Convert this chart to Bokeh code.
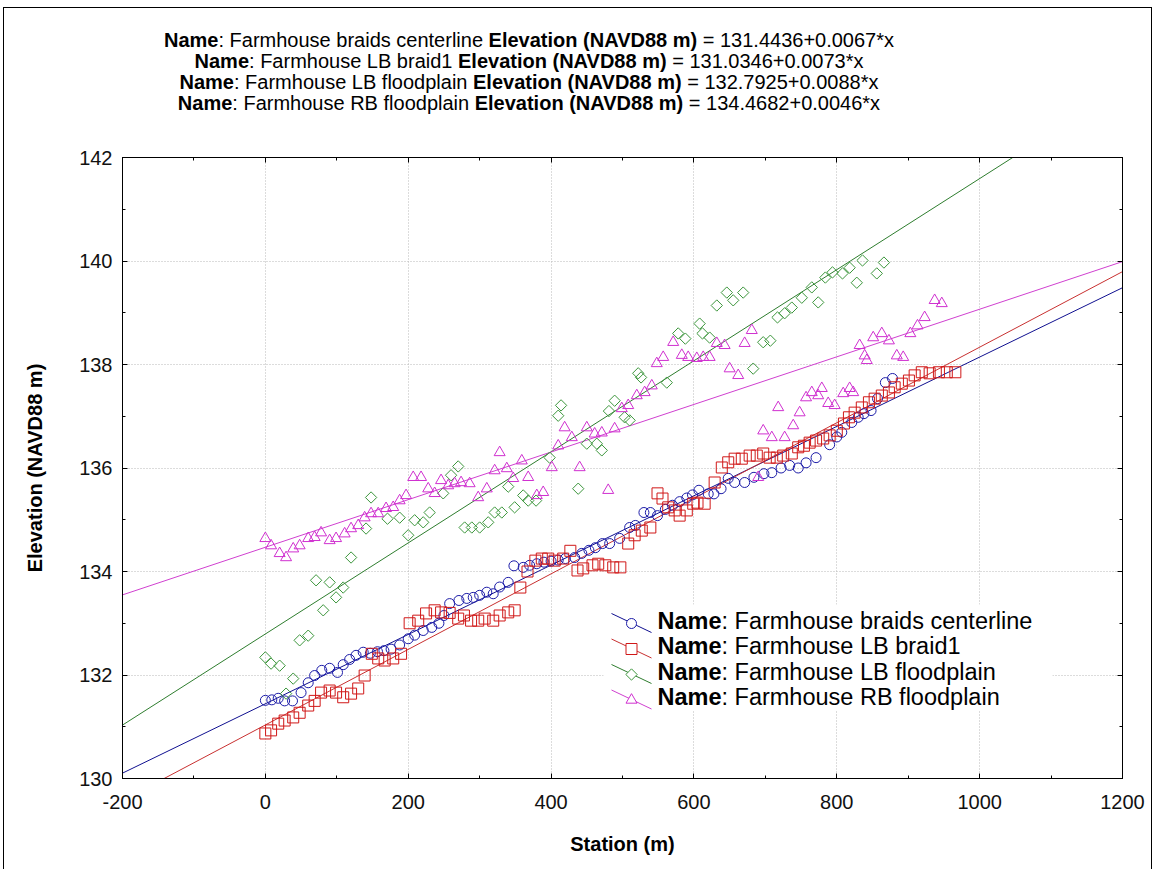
import numpy as np
from bokeh.plotting import figure
from bokeh.models import Range1d, SingleIntervalTicker, LinearAxis, Label, Div
from bokeh.layouts import column
from bokeh.embed import file_html
from bokeh.resources import INLINE

# ---------------------------------------------------------------- data
series_names = [
    "Farmhouse braids centerline",
    "Farmhouse LB braid1",
    "Farmhouse LB floodplain",
    "Farmhouse RB floodplain",
]
fit_intercept = [131.4436, 131.0346, 132.7925, 134.4682]
fit_slope = [0.0067, 0.0073, 0.0088, 0.0046]

x_ticks = [-200, 0, 200, 400, 600, 800, 1000, 1200]
y_ticks = [130, 132, 134, 136, 138, 140, 142]

centerline_station = [0, 9, 18, 27, 38, 50, 60, 69, 79, 90, 101, 109, 118, 127, 137, 147, 157, 166, 176, 188,
                      200, 209, 221, 233, 243, 250, 258, 271, 282, 291, 300, 310, 319, 328, 340, 348, 361, 370,
                      380, 390, 400, 410, 420, 433, 443, 453, 462, 472, 482, 496, 510, 518, 530, 539, 549, 560,
                      570, 580, 590, 598, 607, 620, 628, 638, 648, 657, 671, 684, 698, 709, 722, 734, 746, 757,
                      771, 790, 800, 807, 821, 830, 838, 848, 857, 868, 878]
centerline_elev = [131.51, 131.52, 131.55, 131.50, 131.50, 131.66, 131.85, 131.99, 132.09, 132.13, 132.05, 132.20,
                   132.30, 132.38, 132.44, 132.42, 132.45, 132.47, 132.50, 132.58, 132.70, 132.77, 132.86, 132.92,
                   133.00, 133.15, 133.38, 133.44, 133.48, 133.50, 133.54, 133.60, 133.57, 133.70, 133.79, 134.11,
                   134.08, 134.12, 134.15, 134.18, 134.20, 134.22, 134.25, 134.27, 134.35, 134.41, 134.46, 134.54,
                   134.54, 134.64, 134.85, 134.89, 135.14, 135.14, 135.08, 135.20, 135.28, 135.35, 135.42, 135.48,
                   135.57, 135.50, 135.50, 135.60, 135.80, 135.72, 135.72, 135.82, 135.89, 135.91, 136.00, 136.05,
                   136.00, 136.10, 136.20, 136.45, 136.60, 136.69, 136.88, 136.98, 137.05, 137.11, 137.34, 137.65,
                   137.73]

braid1_station = [0, 8, 18, 27, 39, 48, 60, 69, 78, 90, 99, 109, 120, 130, 139, 149, 158, 167, 179, 190, 202, 214,
                  225, 237, 246, 258, 270, 278, 288, 298, 307, 319, 328, 340, 349, 357, 367, 378, 387, 396, 405,
                  417, 427, 437, 445, 458, 466, 476, 487, 497, 508, 517, 527, 539, 549, 556, 564, 573, 580, 590,
                  599, 605, 615, 629, 639, 648, 657, 667, 678, 688, 697, 706, 716, 725, 737, 746, 754, 762, 771,
                  781, 790, 800, 810, 817, 825, 835, 845, 853, 863, 873, 881, 891, 901, 909, 919, 930, 943, 954,
                  966]
braid1_elev = [130.87, 130.93, 131.06, 131.12, 131.18, 131.27, 131.41, 131.50, 131.66, 131.70, 131.66, 131.57,
               131.64, 131.74, 131.99, 132.41, 132.32, 132.28, 132.32, 132.41, 133.00, 133.05, 133.19, 133.25,
               133.21, 133.20, 133.09, 133.15, 133.05, 133.05, 133.09, 133.05, 133.15, 133.21, 133.25, 133.69,
               134.00, 134.21, 134.25, 134.25, 134.21, 134.25, 134.40, 134.02, 134.06, 134.12, 134.15, 134.12,
               134.08, 134.08, 134.54, 134.70, 134.79, 134.85, 135.51, 135.41, 135.24, 135.18, 135.08, 135.18,
               135.31, 135.33, 135.31, 135.72, 136.01, 136.11, 136.18, 136.18, 136.24, 136.24, 136.28, 136.20,
               136.20, 136.24, 136.28, 136.40, 136.43, 136.49, 136.53, 136.57, 136.63, 136.72, 136.86, 136.98,
               137.07, 137.17, 137.27, 137.34, 137.40, 137.46, 137.56, 137.63, 137.69, 137.79, 137.85, 137.83,
               137.85, 137.85, 137.85]

lb_flood_station = [0, 8, 20, 29, 39, 48, 60, 71, 81, 90, 99, 109, 120, 141, 148, 171, 188, 200, 209, 221, 230,
                    249, 260, 270, 279, 289, 300, 312, 321, 331, 340, 349, 361, 368, 379, 398, 410, 414, 438, 450,
                    464, 471, 481, 489, 503, 510, 522, 526, 562, 578, 588, 608, 612, 622, 632, 646, 655, 669, 683,
                    697, 707, 717, 727, 737, 751, 765, 774, 784, 794, 808, 818, 828, 836, 856, 866]
lb_flood_elev = [132.34, 132.22, 132.18, 131.64, 131.93, 132.67, 132.76, 133.83, 133.25, 133.79, 133.50, 133.69,
                 134.27, 134.83, 135.43, 135.02, 135.04, 134.70, 134.99, 134.95, 135.14, 135.51, 135.86, 136.03,
                 134.85, 134.85, 134.85, 134.95, 135.14, 135.14, 135.64, 135.24, 135.47, 135.37, 135.37, 136.20,
                 137.01, 137.21, 135.60, 136.47, 136.47, 136.34, 137.10, 137.30, 136.98, 136.92, 137.83, 137.75,
                 137.65, 138.60, 138.50, 138.79, 138.60, 138.52, 139.14, 139.39, 139.24, 139.39, 137.92, 138.43,
                 138.46, 138.91, 138.99, 139.10, 139.29, 139.49, 139.20, 139.68, 139.78, 139.76, 139.87, 139.58,
                 140.01, 139.76, 139.97]

rb_flood_station = [0, 8, 20, 29, 39, 48, 60, 69, 78, 90, 99, 111, 120, 130, 139, 148, 158, 169, 179, 188, 197,
                    207, 218, 228, 237, 246, 256, 265, 274, 286, 298, 310, 321, 328, 338, 347, 359, 368, 380, 389,
                    401, 410, 419, 429, 440, 450, 461, 471, 480, 489, 499, 508, 520, 531, 541, 548, 557, 571, 583,
                    592, 604, 613, 622, 632, 643, 650, 662, 671, 681, 690, 697, 709, 718, 727, 739, 748, 757, 765,
                    774, 779, 788, 797, 809, 818, 823, 832, 839, 842, 851, 863, 873, 884, 893, 903, 913, 923, 937,
                    947]
rb_flood_elev = [134.64, 134.50, 134.35, 134.27, 134.44, 134.50, 134.64, 134.66, 134.75, 134.60, 134.64, 134.73,
                 134.83, 134.89, 135.04, 135.12, 135.12, 135.22, 135.24, 135.37, 135.47, 135.82, 135.82, 135.60,
                 135.51, 135.76, 135.66, 135.70, 135.72, 135.70, 135.43, 135.60, 135.95, 136.30, 135.99, 135.80,
                 136.14, 135.82, 135.47, 135.53, 136.01, 136.43, 136.78, 136.59, 136.01, 136.78, 136.66, 136.68,
                 135.57, 136.76, 137.15, 137.21, 137.40, 137.46, 137.59, 138.02, 138.14, 138.43, 138.18, 138.14,
                 138.12, 138.14, 138.14, 138.41, 138.37, 137.92, 137.79, 138.41, 138.66, 135.82, 136.72, 136.59,
                 137.17, 136.59, 136.82, 137.07, 137.36, 137.46, 137.40, 137.54, 137.25, 137.21, 137.44, 137.54,
                 137.46, 138.37, 138.17, 138.08, 138.52, 138.60, 138.46, 138.17, 138.14, 138.60, 138.75, 138.91,
                 139.24, 139.18]

stations = [centerline_station, braid1_station, lb_flood_station, rb_flood_station]
elevations = [centerline_elev, braid1_elev, lb_flood_elev, rb_flood_elev]

# ---------------------------------------------------------------- page geometry
FONT = "Liberation Sans"
PAGE_W, PAGE_H = 1156, 869
EDGE_L, EDGE_T = 3, 7              # outer frame of the whole graph window
INNER_W = 1147                      # width inside the outer frame
HEAD_H = 110                        # height of the equation header
FRAME_L, FRAME_R, FRAME_T, FRAME_B = 122, 1122, 157, 778   # page pixels of the plot box

ox, oy = EDGE_L + 1, EDGE_T + 1     # page offset of the content area
PLOT_H = PAGE_H - oy - HEAD_H

marker_kind = ["circle", "square", "square", "triangle"]
marker_size = [10, 11, 8, 11]
marker_angle = [0.0, 0.0, np.pi / 4, 0.0]
marker_color = ["#1c1ca8", "#d01818", "#3c963c", "#d030d0"]
line_color = ["#101090", "#c83030", "#2e7d2e", "#d040d0"]

# Arial / Liberation Sans bold advance widths (1/1000 em) for the legend's mixed-weight text
BOLD_W = {"N": 722, "a": 556, "m": 889, "e": 556}


def bold_width(s, size):
    return sum(BOLD_W[c] for c in s) * size / 1000.0


x_lo, x_hi = x_ticks[0], x_ticks[-1]
y_lo, y_hi = y_ticks[0], y_ticks[-1]


def sx(px):
    return x_lo + (px - FRAME_L) * (x_hi - x_lo) / (FRAME_R - FRAME_L)


def sy(py):
    return y_hi - (py - FRAME_T) * (y_hi - y_lo) / (FRAME_B - FRAME_T)


# ---------------------------------------------------------------- equation header
title_center = 529 - ox
title_rows = [40, 61, 82, 103]
rows_html = []
for i in range(4):
    rows_html.append(
        '<div style="height:21px;line-height:21px;white-space:nowrap;">'
        '<b>Name</b>: %s <b>Elevation (NAVD88 m)</b> = %.4f+%.4f*x</div>'
        % (series_names[i], fit_intercept[i], fit_slope[i])
    )
header = Div(
    text='<div style="width:%dpx;text-align:center;padding-top:%dpx;font-family:\'%s\';'
         'font-size:20px;color:#000000;">%s</div>'
         % (2 * title_center, title_rows[0] - oy - 10, FONT, "".join(rows_html)),
    width=INNER_W, height=HEAD_H, margin=0,
)

# ---------------------------------------------------------------- plot
p = figure(width=INNER_W, height=PLOT_H, x_range=Range1d(x_lo, x_hi), y_range=Range1d(y_lo, y_hi),
           output_backend="svg", toolbar_location=None,
           min_border_left=FRAME_L - ox, min_border_right=INNER_W - (FRAME_R - ox),
           min_border_top=FRAME_T - oy - HEAD_H, min_border_bottom=PLOT_H - (FRAME_B - oy - HEAD_H),
           background_fill_color="white", border_fill_color="white",
           outline_line_color="black", outline_line_width=1, margin=0)

xt = SingleIntervalTicker(interval=200, num_minor_ticks=2)
yt = SingleIntervalTicker(interval=2, num_minor_ticks=2)
p.xaxis.ticker = xt
p.yaxis.ticker = yt
p.xgrid.ticker = xt
p.ygrid.ticker = yt
p.grid.grid_line_color = "#b8b8b8"
p.grid.grid_line_dash = "1 2"
p.grid.grid_line_width = 1

for ax in (p.xaxis[0], p.yaxis[0]):
    ax.major_tick_in = 5
    ax.major_tick_out = 0
    ax.minor_tick_in = 3
    ax.minor_tick_out = 0
    ax.axis_line_color = "black"
    ax.major_tick_line_color = "black"
    ax.minor_tick_line_color = "black"
    ax.major_label_text_font = FONT
    ax.major_label_text_font_size = "20px"
    ax.major_label_text_color = "#111111"
    ax.axis_label_text_font = FONT
    ax.axis_label_text_font_size = "20px"
    ax.axis_label_text_font_style = "bold"
    ax.axis_label_text_color = "black"

p.xaxis[0].major_label_overrides = {t: str(t) for t in x_ticks}
p.xaxis[0].axis_label = "Station (m)"
p.xaxis[0].major_label_standoff = 16
p.xaxis[0].axis_label_standoff = 21
p.yaxis[0].axis_label = "Elevation (NAVD88 m)"
p.yaxis[0].major_label_standoff = 10
p.yaxis[0].axis_label_standoff = 30

# tick marks mirrored on the top and right edges of the box
for ticker, side in ((xt, "above"), (yt, "right")):
    ax = LinearAxis(ticker=ticker, major_label_text_font_size="1px", major_label_text_color=None,
                    major_label_standoff=0,
                    major_tick_in=5, major_tick_out=0, minor_tick_in=3, minor_tick_out=0,
                    axis_line_color="black", major_tick_line_color="black",
                    minor_tick_line_color="black")
    p.add_layout(ax, side)

# regression lines across the full station range
x_fit = np.array([x_lo, x_hi], dtype=float)
for i in range(4):
    p.line(x_fit, fit_intercept[i] + fit_slope[i] * x_fit, line_color=line_color[i], line_width=1)

# observed points
for i in range(4):
    p.scatter(stations[i], elevations[i], marker=marker_kind[i], size=marker_size[i],
              angle=marker_angle[i], fill_alpha=0, line_color=marker_color[i], line_width=1)

# ---------------------------------------------------------------- legend
LEG_SIZE = 23.5
leg_rows = [620, 645.5, 671, 696.5]
p.quad(left=[sx(603)], right=[sx(1052)], top=[sy(604)], bottom=[sy(710)],
       fill_color="white", line_color=None)
for i, yc in enumerate(leg_rows):
    p.segment(x0=[sx(611)], y0=[sy(yc - 7)], x1=[sx(651)], y1=[sy(yc + 12)],
              line_color=line_color[i], line_width=1)
    p.scatter([sx(631)], [sy(yc + 3)], marker=marker_kind[i], size=marker_size[i],
              angle=marker_angle[i], fill_color="white", line_color=marker_color[i], line_width=1)
    x0 = 657
    p.add_layout(Label(x=sx(x0), y=sy(yc), text="Name", text_font=FONT,
                       text_font_size=f"{LEG_SIZE}px", text_font_style="bold",
                       text_baseline="middle", text_align="left", text_color="black"))
    x0 += bold_width("Name", LEG_SIZE)
    p.add_layout(Label(x=sx(x0), y=sy(yc), text=": " + series_names[i], text_font=FONT,
                       text_font_size=f"{LEG_SIZE}px", text_baseline="middle",
                       text_align="left", text_color="black"))

page = column(header, p, spacing=0,
              styles={"margin-left": f"{EDGE_L}px", "margin-top": f"{EDGE_T}px",
                      "border": "1px solid #000000", "background-color": "#ffffff"})

open("out.html", "w").write(file_html(page, INLINE))
